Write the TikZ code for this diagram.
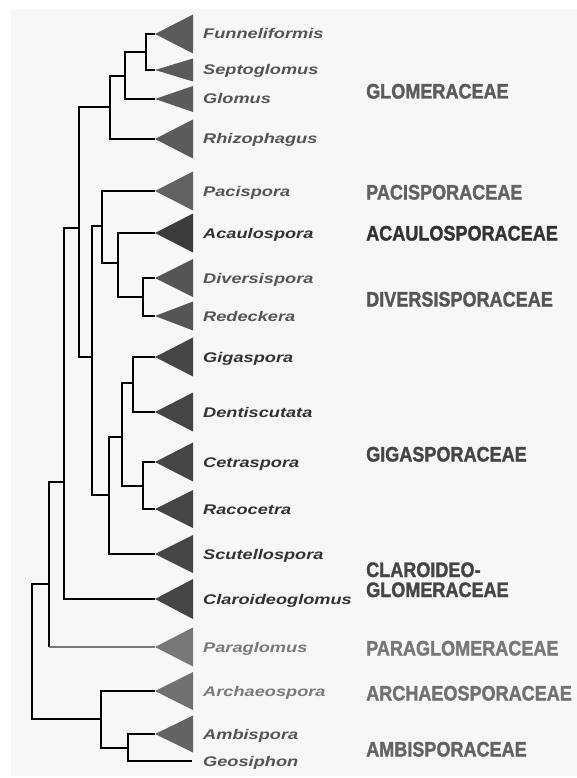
\documentclass[tikz,border=0pt]{standalone}
\usepackage{fontspec}
\setmainfont{Liberation Sans}
\newfontfamily\famfont{Liberation Sans}[BoldFeatures={FakeBold=1.6}]
\usepackage{graphicx}

\definecolor{panel}{HTML}{F7F7F7}
\definecolor{cglo}{HTML}{5B5B5B}
\definecolor{cpac}{HTML}{626262}
\definecolor{cacu}{HTML}{3C3C3C}
\definecolor{cdiv}{HTML}{555555}
\definecolor{cgig}{HTML}{454545}
\definecolor{cpar}{HTML}{787878}
\definecolor{carc}{HTML}{717171}
\definecolor{camb}{HTML}{636363}
\definecolor{tglo}{HTML}{555555}
\definecolor{tdark}{HTML}{333333}
\definecolor{tpar}{HTML}{7A7A7A}

\begin{document}
\begin{tikzpicture}[x=1pt,y=-1pt,
    branch/.style={line width=1.7pt,line join=miter},
    genus/.style={anchor=base west,inner sep=0pt,font=\fontsize{14}{16}\selectfont\bfseries\itshape},
    family/.style={anchor=base west,inner sep=0pt,align=left,
        font=\fontsize{21}{20}\selectfont\famfont\bfseries}]

\useasboundingbox (0,0) rectangle (577,778);
\fill[panel] (11,9) rectangle (577,776);

% ===== Triangles and genus names =====
\foreach \nm/\y/\h/\col/\lbl/\tcol in {
    funn/34/19.5/cglo/Funneliformis/tglo,
    sept/70/11.5/cglo/Septoglomus/tglo,
    glom/99/13/cglo/Glomus/tglo,
    rhiz/139/19.5/cglo/Rhizophagus/tglo,
    paci/191/19.5/cpac/Pacispora/tglo,
    acau/233/19.5/cacu/Acaulospora/tdark,
    dive/278/19/cdiv/Diversispora/tglo,
    rede/316/14.5/cdiv/Redeckera/tglo,
    giga/357/19.5/cgig/Gigaspora/tdark,
    dent/412/19.5/cgig/Dentiscutata/tdark,
    cetr/462/19.5/cgig/Cetraspora/tdark,
    raco/509/19/cgig/Racocetra/tdark,
    scut/554/19/cgig/Scutellospora/tdark,
    clar/599/20/cgig/Claroideoglomus/tdark,
    para/647/19.5/cpar/Paraglomus/tpar,
    arch/691/19/carc/Archaeospora/tpar,
    ambi/734/18.5/camb/Ambispora/tglo} {
    \coordinate (\nm) at (155,\y);
    \fill[\col] (\nm) -- (193,{\y-\h}) -- (193,{\y+\h}) -- cycle;
    \node[genus,text=\tcol] (\nm-lbl) at (203,{\y+5}) {\scalebox{1.3}[1]{\lbl}};
}

\coordinate (geos) at (192,761);
\node[genus,text=tglo] (geos-lbl) at (203,766) {\scalebox{1.3}[1]{Geosiphon}};

% ===== Inner nodes =====
\coordinate (n1) at (146,52);
\coordinate (n2) at (125,76);
\coordinate (n3) at (110,107);
\coordinate (n4) at (143,297);
\coordinate (n5) at (118,263);
\coordinate (n6) at (102,226);
\coordinate (g1) at (133,383);
\coordinate (g2) at (143,486);
\coordinate (g3) at (122,437);
\coordinate (g4) at (109,495);
\coordinate (n7) at (92,357);
\coordinate (n8) at (79,228);
\coordinate (n9) at (64,482);
\coordinate (n10) at (49,584);
\coordinate (a1) at (128,748);
\coordinate (a2) at (101,719);
\coordinate (root) at (32,651);

% ===== Branches =====
\draw[branch] (funn) -| (n1) |- (sept);
\draw[branch] (n1) -| (n2) |- (glom);
\draw[branch] (n2) -| (n3) |- (rhiz);
\draw[branch] (dive) -| (n4) |- (rede);
\draw[branch] (acau) -| (n5) |- (n4);
\draw[branch] (paci) -| (n6) |- (n5);
\draw[branch] (giga) -| (g1) |- (dent);
\draw[branch] (cetr) -| (g2) |- (raco);
\draw[branch] (g1) -| (g3) |- (g2);
\draw[branch] (g3) -| (g4) |- (scut);
\draw[branch] (n6) -| (n7) |- (g4);
\draw[branch] (n3) -| (n8) |- (n7);
\draw[branch] (n8) -| (n9) |- (clar);
\draw[branch] (n9) -| (n10) -- (n10 |- para);
\draw[branch,draw=cpar] (n10 |- para) -- (para);
\draw[branch] (ambi) -| (a1) |- (geos);
\draw[branch] (arch) -| (a2) |- (a1);
\draw[branch] (n10) -| (root) |- (a2);

% ===== Families =====
\node[family,text=cglo] (f-glom) at (366,98.5) {\scalebox{0.86}[1]{GLOMERACEAE}};
\node[family,text=cpac] (f-paci) at (366,199.5) {\scalebox{0.86}[1]{PACISPORACEAE}};
\node[family,text=tdark] (f-acau) at (366,240.5) {\scalebox{0.86}[1]{ACAULOSPORACEAE}};
\node[family,text=cdiv] (f-dive) at (366,306.5) {\scalebox{0.86}[1]{DIVERSISPORACEAE}};
\node[family,text=cgig] (f-giga) at (366,461.5) {\scalebox{0.86}[1]{GIGASPORACEAE}};
\node[family,text=cgig] (f-clar) at (366,597) {\scalebox{0.86}[1]{CLAROIDEO-}\\\scalebox{0.86}[1]{GLOMERACEAE}};
\node[family,text=cpar] (f-para) at (366,655.5) {\scalebox{0.86}[1]{PARAGLOMERACEAE}};
\node[family,text=carc] (f-arch) at (366,700.5) {\scalebox{0.86}[1]{ARCHAEOSPORACEAE}};
\node[family,text=camb] (f-ambi) at (366,756.5) {\scalebox{0.86}[1]{AMBISPORACEAE}};

\end{tikzpicture}
\end{document}
